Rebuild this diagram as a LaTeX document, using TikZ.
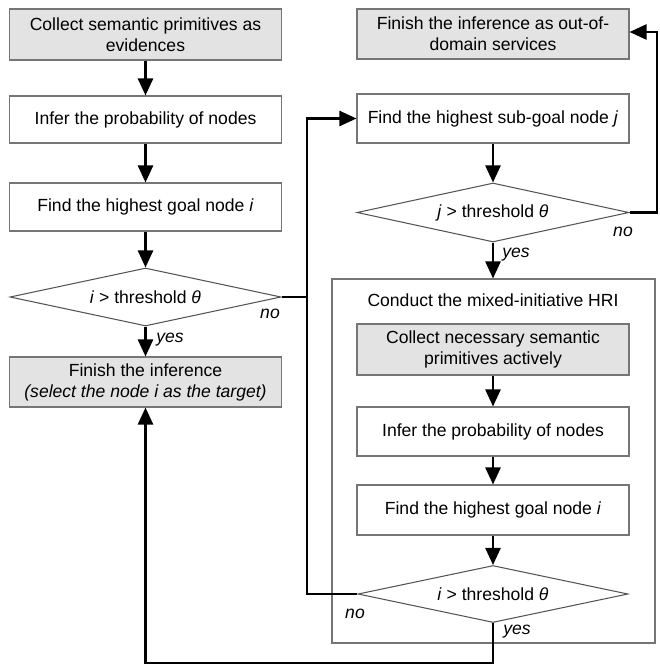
\documentclass[tikz,border=0pt]{standalone}
\usepackage{fontspec}
\setmainfont{Liberation Sans}
\usetikzlibrary{arrows.meta,positioning,calc,shapes.geometric}
\definecolor{boxline}{HTML}{767676}
\definecolor{testline}{HTML}{555555}
\definecolor{boxfill}{HTML}{E3E3E3}
\tikzset{
  stepbox/.style={draw=boxline, line width=0.6pt, fill=white, inner sep=2pt,
                  align=center, font=\fontsize{10}{12}\selectfont,
                  minimum width=5.45cm, minimum height=0.98cm},
  graybox/.style={stepbox, fill=boxfill},
  testbox/.style={diamond, draw=testline, line width=0.6pt, fill=white, inner sep=0pt,
                  font=\fontsize{10}{12}\selectfont, aspect=4.6,
                  minimum width=5.42cm, minimum height=1.16cm},
  tag/.style={font=\fontsize{10}{12}\selectfont\itshape, inner sep=1pt},
  flow/.style={line width=1.4pt, color=black},
  arr/.style={flow, -{Triangle[length=3.4mm, width=3mm]}}}

\begin{document}
\begin{tikzpicture}
    \useasboundingbox (0,0) rectangle (13.18,-13.34);
    % left column
    \node[graybox, minimum height=1.02cm] (collect) at (2.91,-0.69)
      {Collect semantic primitives as\\ evidences};
    \node[stepbox, minimum height=0.94cm] (infer) at (2.91,-2.39)
      {Infer the probability of nodes};
    \node[stepbox, minimum height=0.96cm] (goal) at (2.91,-4.14)
      {Find the highest goal node \textit{i}};
    \node[testbox] (testi) at (2.91,-5.94)
      {\textit{i} > threshold \textit{θ}};
    \node[graybox, minimum height=1.0cm] (finish) at (2.91,-7.64)
      {Finish the inference\\ \textit{(select the node i as the target)}};
    % right column
    \node[graybox, minimum width=5.44cm, minimum height=1.0cm] (outdom) at (9.86,-0.68)
      {Finish the inference as out-of-\\ domain services};
    \node[stepbox, minimum width=5.44cm] (subgoal) at (9.86,-2.37)
      {Find the highest sub-goal node \textit{j}};
    \node[testbox, minimum width=5.44cm, minimum height=1.18cm] (testj) at (9.86,-4.25)
      {\textit{j} > threshold \textit{θ}};
    % the mixed-initiative HRI
    \node[draw=boxline, line width=0.6pt, minimum width=6.46cm, minimum height=7.28cm]
      (hri) at (9.87,-9.22) {};
    \node[font=\fontsize{10}{12}\selectfont] (hrititle) at (9.86,-6.0)
      {Conduct the mixed-initiative HRI};
    \node[graybox, minimum width=5.44cm, minimum height=1.02cm] (active) at (9.86,-6.99)
      {Collect necessary semantic\\ primitives actively};
    \node[stepbox, minimum width=5.44cm] (infer2) at (9.86,-8.63)
      {Infer the probability of nodes};
    \node[stepbox, minimum width=5.44cm, minimum height=1.0cm] (goal2) at (9.86,-10.2)
      {Find the highest goal node \textit{i}};
    \node[testbox, minimum width=5.4cm, minimum height=1.14cm] (testi2) at (9.86,-11.88)
      {\textit{i} > threshold \textit{θ}};
    % rails
    \coordinate (railL) at (6.14,0);
    \coordinate (railR) at (13.14,0);
    \coordinate (railB) at (0,-13.26);
    % straight arrows
    \draw[arr] (collect) -- (infer);
    \draw[arr] (infer) -- (goal);
    \draw[arr] (goal) -- (testi);
    \draw[arr] (testi) -- (finish);
    \draw[arr] (subgoal) -- (testj);
    \draw[arr] (testj) -- (hri.north -| testj.south);
    \draw[arr] (active) -- (infer2);
    \draw[arr] (infer2) -- (goal2);
    \draw[arr] (goal2) -- (testi2);
    % loops
    \draw[arr] (testi.east) -- (testi.east -| railL) |- (subgoal.west);
    \draw[flow] (testi2.west) -- (testi2.west -| railL) -- (testi.east -| railL);
    \draw[arr] (testj.east) -- (testj.east -| railR) |- ($(outdom.east)+(0,0.04)$);
    \draw[arr] (testi2.south) -- (testi2.south |- railB) -| (finish.south);
    % labels
    \node[tag] (yes1) at (3.4,-6.8) {yes};
    \node[tag] (no1) at (5.4,-6.28) {no};
    \node[tag] (yes2) at (10.32,-5.09) {yes};
    \node[tag] (no2) at (12.46,-4.64) {no};
    \node[tag] (yes3) at (10.34,-12.64) {yes};
    \node[tag] (no3) at (7.1,-12.28) {no};
  \end{tikzpicture}
\end{document}
